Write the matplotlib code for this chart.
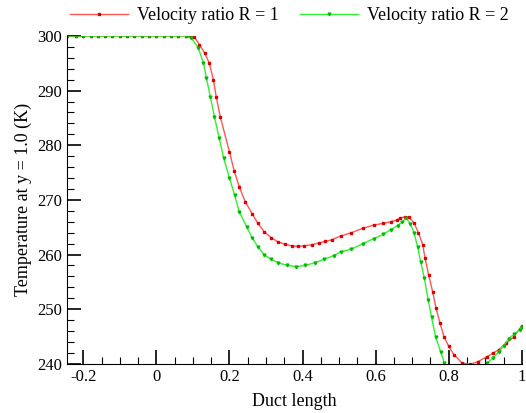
import numpy as np
import matplotlib.pyplot as plt
from matplotlib.ticker import MultipleLocator

plt.rcParams['font.family'] = ['Liberation Serif', 'DejaVu Serif']

# Velocity ratio R = 1
_xR1 = [-0.245, -0.22, -0.2, -0.18, -0.16, -0.14, -0.12, -0.1, -0.08, -0.06, -0.04, -0.02, 0.0,
        0.02, 0.04, 0.06, 0.08, 0.09, 0.104, 0.118, 0.132, 0.145, 0.156, 0.164, 0.175, 0.2, 0.213,
        0.227, 0.243, 0.262, 0.278, 0.295, 0.314, 0.333, 0.352, 0.37, 0.388, 0.405, 0.425, 0.444,
        0.462, 0.48, 0.505, 0.534, 0.565, 0.595, 0.62, 0.641, 0.658, 0.668, 0.68, 0.69, 0.705,
        0.717, 0.729, 0.735, 0.745, 0.756, 0.765, 0.776, 0.787, 0.8, 0.814, 0.836, 0.858, 0.88,
        0.904, 0.92, 0.937, 0.958, 0.979, 1.0]
_tR1 = [300, 300, 300, 300, 300, 300, 300, 300, 300, 300, 300, 300, 300,
        300, 300, 300, 300, 300, 299.8, 298.4, 296.9, 295.0, 292.0, 288.8, 285.2, 278.8, 275.3,
        272.4, 269.7, 267.5, 265.7, 264.2, 263.1, 262.3, 261.9, 261.6, 261.5, 261.6, 261.8, 262.1,
        262.4, 262.7, 263.4, 264.0, 264.8, 265.4, 265.7, 266.0, 266.3, 266.7, 266.9, 266.9, 265.8,
        264.0, 261.8, 259.4, 256.3, 253.2, 250.3, 247.5, 245.0, 243.2, 241.7, 240.2, 239.9, 240.4,
        241.3, 241.9, 242.6, 243.8, 245.0, 247.0]

# Velocity ratio R = 2
_xR2 = [-0.245, -0.22, -0.2, -0.18, -0.16, -0.14, -0.12, -0.1, -0.08, -0.06, -0.04, -0.02, 0.0,
        0.02, 0.04, 0.06, 0.08, 0.096, 0.115, 0.129, 0.137, 0.148, 0.159, 0.172, 0.184, 0.2, 0.214,
        0.227, 0.247, 0.262, 0.278, 0.295, 0.314, 0.334, 0.358, 0.383, 0.408, 0.433, 0.458, 0.485,
        0.505, 0.534, 0.565, 0.595, 0.62, 0.641, 0.66, 0.673, 0.684, 0.695, 0.705, 0.715, 0.723,
        0.733, 0.744, 0.753, 0.764, 0.778, 0.788, 0.81, 0.85, 0.88, 0.906, 0.92, 0.937, 0.95,
        0.964, 0.98, 0.994, 1.0]
_tR2 = [300, 300, 300, 300, 300, 300, 300, 300, 300, 300, 300, 300, 300,
        300, 300, 300, 300, 299.6, 297.8, 295.0, 292.3, 288.8, 285.2, 281.3, 277.7, 274.0, 270.9,
        267.8, 265.1, 263.1, 261.4, 260.0, 259.1, 258.5, 258.0, 257.8, 258.0, 258.5, 259.1, 259.8,
        260.5, 261.0, 262.0, 262.9, 263.7, 264.5, 265.3, 266.0, 266.7, 265.6, 264.0, 261.4, 258.7,
        255.8, 251.7, 248.5, 245.0, 242.2, 240.2, 237.5, 236.0, 237.2, 240.2, 241.0, 242.2, 243.3,
        244.6, 245.5, 246.2, 246.7]

fig = plt.figure(figsize=(5.26, 4.13), dpi=100)
ax = fig.add_axes([0.127, 0.119, 0.865, 0.794])

ax.plot(_xR1, _tR1, color='#ff5555', lw=1.0, marker='s', ms=1.8,
        mfc='#dd0000', mec='#dd0000', label='Velocity ratio R = 1')
ax.plot(_xR2, _tR2, color='#33ee33', lw=1.0, marker='v', ms=2.0,
        mfc='#00bb00', mec='#00bb00', label='Velocity ratio R = 2')

ax.set_xlim(-0.245, 1.0)
ax.set_ylim(240, 300)
ax.xaxis.set_major_locator(MultipleLocator(0.2))
ax.xaxis.set_minor_locator(MultipleLocator(0.05))
ax.yaxis.set_major_locator(MultipleLocator(10))
ax.yaxis.set_minor_locator(MultipleLocator(2))
ax.set_xticks([-0.2, 0, 0.2, 0.4, 0.6, 0.8, 1.0])
ax.set_xticklabels(['-0.2', '0', '0.2', '0.4', '0.6', '0.8', '1'])
ax.tick_params(which='both', direction='in', top=False, right=False, labelsize=12)
ax.tick_params(which='major', length=10, width=1.2)
ax.tick_params(which='minor', length=5, width=0.8)
ax.spines['top'].set_visible(False)
ax.spines['right'].set_visible(False)

ax.set_xlabel('Duct length', fontsize=13, labelpad=6)
ax.set_ylabel('Temperature at y = 1.0 (K)', fontsize=13)

fig.legend(loc='center', bbox_to_anchor=(0.55, 0.962), ncol=2, frameon=False,
           fontsize=13, handlelength=3.2, columnspacing=1.2, handletextpad=0.5)

fig.savefig('out.png')
